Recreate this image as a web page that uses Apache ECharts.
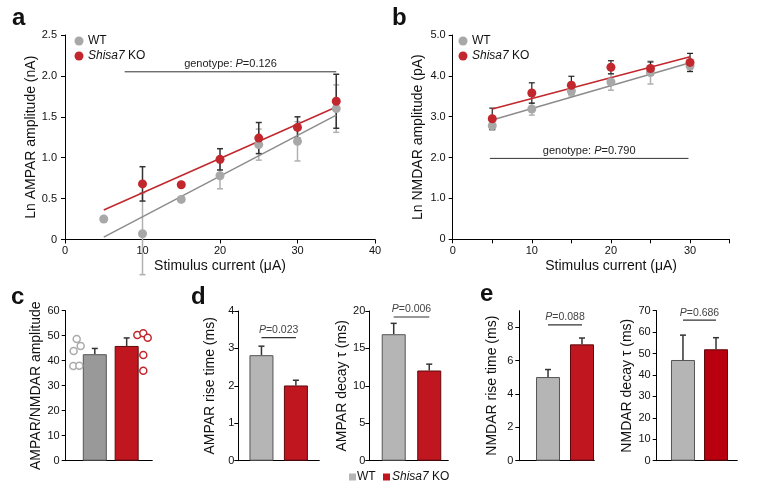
<!DOCTYPE html>
<html><head><meta charset="utf-8">
<script src="https://cdn.jsdelivr.net/npm/echarts@6/dist/echarts.min.js"></script>
<style>html,body{margin:0;padding:0;background:#fff}#c{width:760px;height:489px}</style>
</head><body><div id="c"></div>
<script>
// ---------- DATA ----------
// Panel a: Ln AMPAR amplitude (nA) vs stimulus current (uA)
const currentA = [5, 10, 15, 20, 25, 30, 35];
const ampaWT = [0.25, 0.07, 0.49, 0.78, 1.16, 1.20, 1.60];
const ampaWTerr = [0, 0.50, 0, 0.16, 0.19, 0.24, 0.29];
const currentAKO = [10, 15, 20, 25, 30, 35];
const ampaKO = [0.68, 0.67, 0.98, 1.24, 1.37, 1.69];
const ampaKOerr = [0.21, 0, 0.13, 0.19, 0.13, 0.33];
const ampaFitWT = [[5, 0.03], [35, 1.52]];
const ampaFitKO = [[5, 0.36], [35, 1.62]];
const ampaGenotypeSpan = [7.7, 35];
const ampaGenotypeLevel = 2.05;
const ampaGenotypeP = '0.126';

// Panel b: Ln NMDAR amplitude (pA)
const currentB = [5, 10, 15, 20, 25, 30];
const nmdaWT = [2.78, 3.19, 3.63, 3.85, 4.08, 4.24];
const nmdaWTerr = [0.11, 0.15, 0.12, 0.20, 0.28, 0.14];
const nmdaKO = [2.95, 3.58, 3.77, 4.21, 4.18, 4.33];
const nmdaKOerr = [0.26, 0.25, 0.22, 0.16, 0.16, 0.22];
const nmdaFitWT = [[5, 2.92], [30, 4.32]];
const nmdaFitKO = [[5, 3.19], [30, 4.47]];
const nmdaGenotypeSpan = [4.7, 29.8];
const nmdaGenotypeLevel = 1.98;
const nmdaGenotypeP = '0.790';

// Bar panels: [WT, Shisa7 KO]
const groups = ['WT', 'Shisa7 KO'];
const ratioMean = [42.6, 45.9];
const ratioSEM = [2.3, 3.2];
const ratioCellsWT = [48.7, 45.9, 43.9, 37.9, 38.0];
const ratioCellsKO = [50.3, 51.0, 49.2, 42.3, 36.0];
const ampaRise = [2.82, 2.01];
const ampaRiseSEM = [0.24, 0.14];
const ampaRiseP = '0.023';
const ampaDecay = [16.9, 12.05];
const ampaDecaySEM = [1.45, 0.85];
const ampaDecayP = '0.006';
const nmdaRise = [5.02, 6.98];
const nmdaRiseSEM = [0.45, 0.38];
const nmdaRiseP = '0.088';
const nmdaDecay = [47.0, 52.0];
const nmdaDecaySEM = [11.6, 5.4];
const nmdaDecayP = '0.686';

// ---------- LAYOUT / STYLE ----------
const F = "'Liberation Sans', Arial, sans-serif";
const RED = '#c1272d', GREY = '#a8a8a8';
const jitterWT = [0.127, 0.173, 0.092, 0.088, 0.157];
const jitterKO = [0.827, 0.896, 0.947, 0.896, 0.896];

const grids = [
  {left: 65, top: 35, width: 310, height: 204.5},
  {left: 452.7, top: 35, width: 276.9, height: 204.3},
  {left: 65.7, top: 310.7, width: 86.6, height: 150},
  {left: 238.3, top: 311, width: 81, height: 149.7},
  {left: 369.3, top: 311, width: 79, height: 149.7},
  {left: 519.3, top: 310.7, width: 75, height: 150},
  {left: 656.7, top: 310.7, width: 80.6, height: 150}
];

const barPanels = [
  {g: 2, vals: ratioMean, errs: ratioSEM, max: 60, interval: 10, name: 'AMPAR/NMDAR amplitude', pos: [0.336, 0.704], wt: '#999999', ko: '#c0161f', gap: 22, margin: 6},
  {g: 3, vals: ampaRise, errs: ampaRiseSEM, max: 4, interval: 1, name: 'AMPAR rise time (ms)', pos: [0.286, 0.711], wt: '#b5b5b5', ko: '#c0161f', gap: 21, margin: 4, p: ampaRiseP, pLevel: 3.29},
  {g: 4, vals: ampaDecay, errs: ampaDecaySEM, max: 20, interval: 5, name: 'AMPAR decay τ (ms)', pos: [0.309, 0.759], wt: '#b5b5b5', ko: '#c0161f', gap: 19, margin: 4, p: ampaDecayP, pLevel: 19.2},
  {g: 5, vals: nmdaRise, errs: nmdaRiseSEM, max: 9, interval: 2, name: 'NMDAR rise time (ms)', pos: [0.383, 0.836], wt: '#b5b5b5', ko: '#c0161f', gap: 20, margin: 6, p: nmdaRiseP, pLevel: 8.15, hideMax: true},
  {g: 6, vals: nmdaDecay, errs: nmdaDecaySEM, max: 70, interval: 10, name: 'NMDAR decay τ (ms)', pos: [0.326, 0.736], wt: '#b5b5b5', ko: '#b8000f', gap: 20, margin: 6, p: nmdaDecayP, pLevel: 65.6}
];

const axisLine = {show: true, lineStyle: {color: '#000', width: 1}};
const axisTick = {show: true, length: 4, lineStyle: {color: '#000', width: 1}};
const lbl = {fontFamily: F, fontSize: 11, color: '#111'};
const nameStyle = {fontFamily: F, fontSize: 14, color: '#111'};

const xAxis = [
  {gridIndex: 0, type: 'value', min: 0, max: 40, interval: 10, axisLine, axisTick, splitLine: {show: false},
   axisLabel: Object.assign({margin: 6}, lbl), name: 'Stimulus current (μA)', nameLocation: 'middle', nameGap: 20, nameTextStyle: nameStyle},
  {gridIndex: 1, type: 'value', min: 0, max: 35, interval: 5, axisLine, axisTick, splitLine: {show: false},
   axisLabel: Object.assign({margin: 6, formatter: v => (v % 10 === 0 && v <= 30) ? String(v) : ''}, lbl),
   name: 'Stimulus current (μA)', nameLocation: 'middle', nameGap: 20, nameTextStyle: Object.assign({padding: [0, 0, 0, 40]}, nameStyle)}
];
const yAxis = [
  {gridIndex: 0, type: 'value', min: 0, max: 2.5, interval: 0.5, axisLine, axisTick, splitLine: {show: false},
   axisLabel: Object.assign({margin: 8, formatter: v => v === 0 ? '0' : v.toFixed(1)}, lbl),
   name: 'Ln AMPAR amplitude (nA)', nameLocation: 'middle', nameGap: 22, nameRotate: 90, nameTextStyle: nameStyle},
  {gridIndex: 1, type: 'value', min: 0, max: 5, interval: 1, axisLine, axisTick, splitLine: {show: false},
   axisLabel: Object.assign({margin: 7, formatter: v => v === 0 ? '0' : v.toFixed(1)}, lbl),
   name: 'Ln NMDAR amplitude (pA)', nameLocation: 'middle', nameGap: 28, nameRotate: 90, nameTextStyle: nameStyle}
];
barPanels.forEach(p => {
  xAxis.push({gridIndex: p.g, type: 'value', min: 0, max: 1, axisLine, axisTick: {show: false}, axisLabel: {show: false}, splitLine: {show: false}});
  yAxis.push({gridIndex: p.g, type: 'value', min: 0, max: p.max, interval: p.interval, axisLine, axisTick, splitLine: {show: false},
    axisLabel: Object.assign({margin: p.margin, showMaxLabel: !p.hideMax}, lbl),
    name: p.name, nameLocation: 'middle', nameGap: p.gap, nameRotate: 90, nameTextStyle: nameStyle});
});

function pRich(prefix, p, size, color) {
  return {
    text: (prefix ? '{n|' + prefix + '}' : '') + '{i|P}{n|=' + p + '}',
    rich: {
      n: {fontFamily: F, fontSize: size, fill: color},
      i: {fontFamily: F, fontSize: size, fill: color, fontStyle: 'italic'}
    }
  };
}

function errSeries(ax, xs, ys, es, color, width, both, z) {
  return {
    type: 'custom', xAxisIndex: ax, yAxisIndex: ax, clip: false, silent: true, z: z,
    data: xs.map((x, i) => [x, ys[i], es[i]]),
    encode: {x: 0, y: 1},
    renderItem: (params, api) => {
      const x = api.value(0), y = api.value(1), e = api.value(2);
      if (!e) return null;
      const top = api.coord([x, y + e]);
      const bot = api.coord(both ? [x, y - e] : [x, y]);
      const c = 3;
      const st = {stroke: color, lineWidth: width};
      const ch = [
        {type: 'line', shape: {x1: top[0], y1: top[1], x2: bot[0], y2: bot[1]}, style: st},
        {type: 'line', shape: {x1: top[0] - c, y1: top[1], x2: top[0] + c, y2: top[1]}, style: st}
      ];
      if (both) ch.push({type: 'line', shape: {x1: bot[0] - c, y1: bot[1], x2: bot[0] + c, y2: bot[1]}, style: st});
      return {type: 'group', children: ch};
    }
  };
}

function bracketSeries(ax, x1, x2, level, prefix, p, size, color, lw) {
  return {
    type: 'custom', xAxisIndex: ax, yAxisIndex: ax, clip: false, silent: true, z: 5,
    data: [[x1, x2, level]],
    renderItem: (params, api) => {
      const a = api.coord([api.value(0), api.value(2)]);
      const b = api.coord([api.value(1), api.value(2)]);
      return {type: 'group', children: [
        {type: 'line', shape: {x1: a[0], y1: a[1], x2: b[0], y2: b[1]}, style: {stroke: '#333', lineWidth: lw}},
        {type: 'text', x: (a[0] + b[0]) / 2, y: a[1] - 2,
         style: Object.assign({align: 'center', verticalAlign: 'bottom'}, pRich(prefix, p, size, color))}
      ]};
    }
  };
}

const series = [];
// Panel a
series.push(errSeries(0, currentA, ampaWT, ampaWTerr, '#b0b0b0', 1.5, true, 2));
series.push(errSeries(0, currentAKO, ampaKO, ampaKOerr, '#333', 1.5, true, 3));
series.push({type: 'line', xAxisIndex: 0, yAxisIndex: 0, data: ampaFitWT, showSymbol: false, silent: true, z: 4, lineStyle: {color: '#8c8c8c', width: 1.5}});
series.push({type: 'line', xAxisIndex: 0, yAxisIndex: 0, data: ampaFitKO, showSymbol: false, silent: true, z: 4, lineStyle: {color: RED, width: 1.5}});
series.push({type: 'scatter', xAxisIndex: 0, yAxisIndex: 0, data: currentA.map((x, i) => [x, ampaWT[i]]), symbolSize: 9, itemStyle: {color: GREY, opacity: 1}, z: 5});
series.push({type: 'scatter', xAxisIndex: 0, yAxisIndex: 0, data: currentAKO.map((x, i) => [x, ampaKO[i]]), symbolSize: 9, itemStyle: {color: RED, opacity: 1}, z: 6});
series.push(bracketSeries(0, ampaGenotypeSpan[0], ampaGenotypeSpan[1], ampaGenotypeLevel, 'genotype: ', ampaGenotypeP, 11, '#222', 1));
// Panel b
series.push(errSeries(1, currentB, nmdaWT, nmdaWTerr, '#b0b0b0', 1.5, true, 2));
series.push(errSeries(1, currentB, nmdaKO, nmdaKOerr, '#222', 1.2, true, 3));
series.push({type: 'line', xAxisIndex: 1, yAxisIndex: 1, data: nmdaFitWT, showSymbol: false, silent: true, z: 4, lineStyle: {color: '#8c8c8c', width: 1.5}});
series.push({type: 'line', xAxisIndex: 1, yAxisIndex: 1, data: nmdaFitKO, showSymbol: false, silent: true, z: 4, lineStyle: {color: RED, width: 1.5}});
series.push({type: 'scatter', xAxisIndex: 1, yAxisIndex: 1, data: currentB.map((x, i) => [x, nmdaWT[i]]), symbolSize: 9, itemStyle: {color: GREY, opacity: 1}, z: 5});
series.push({type: 'scatter', xAxisIndex: 1, yAxisIndex: 1, data: currentB.map((x, i) => [x, nmdaKO[i]]), symbolSize: 9, itemStyle: {color: RED, opacity: 1}, z: 6});
series.push(bracketSeries(1, nmdaGenotypeSpan[0], nmdaGenotypeSpan[1], nmdaGenotypeLevel, 'genotype: ', nmdaGenotypeP, 11, '#222', 1));

// Bar panels
barPanels.forEach((p, k) => {
  const ax = 2 + k;
  series.push({
    type: 'bar', xAxisIndex: ax, yAxisIndex: ax, barWidth: 24, silent: true, z: 2,
    data: p.vals.map((v, i) => ({value: [p.pos[i], v], itemStyle: {color: i === 0 ? p.wt : p.ko, borderColor: i === 0 ? '#555' : '#5c0a0d', borderWidth: 1}}))
  });
  series.push(errSeries(ax, p.pos, p.vals, p.errs, '#333', 1.5, false, 1));
  if (p.p) series.push(bracketSeries(ax, p.pos[0], p.pos[1], p.pLevel, '', p.p, 10.5, '#444', 1.2));
});
// individual cells, panel c
series.push({type: 'scatter', xAxisIndex: 2, yAxisIndex: 2, data: ratioCellsWT.map((v, i) => [jitterWT[i], v]), symbolSize: 7,
  itemStyle: {color: '#fff', borderColor: '#aaa', borderWidth: 1.5, opacity: 1}, z: 5});
series.push({type: 'scatter', xAxisIndex: 2, yAxisIndex: 2, data: ratioCellsKO.map((v, i) => [jitterKO[i], v]), symbolSize: 7,
  itemStyle: {color: '#fff', borderColor: RED, borderWidth: 1.5, opacity: 1}, z: 5});

function letter(t, x, y) {
  return {type: 'text', x: x, y: y, style: {text: t, font: 'bold 24px ' + F, fill: '#111'}};
}
function legendDot(x, y, color) {
  return {type: 'circle', shape: {cx: x, cy: y, r: 4.5}, style: {fill: color}};
}
function legendText(x, y, italic) {
  return {type: 'text', x: x, y: y, style: {
    text: italic ? '{i|Shisa7}{n| KO}' : '{n|WT}', verticalAlign: 'middle',
    rich: {n: {fontFamily: F, fontSize: 12, fill: '#111'}, i: {fontFamily: F, fontSize: 12, fill: '#111', fontStyle: 'italic'}}}};
}
function legendSquare(x, y, color) {
  return {type: 'rect', shape: {x: x, y: y - 3.5, width: 7, height: 7}, style: {fill: color}};
}

const graphic = [
  letter('a', 12, 6), letter('b', 392, 6), letter('c', 11, 285), letter('d', 191, 285), letter('e', 480, 282),
  legendDot(79, 41, GREY), legendText(88, 41, false), legendDot(79, 56, RED), legendText(88, 56, true),
  legendDot(463, 41, GREY), legendText(472, 41, false), legendDot(463, 56, RED), legendText(472, 56, true),
  legendSquare(349, 477, '#b5b5b5'), legendText(357, 477, false), legendSquare(383, 477, '#c0161f'), legendText(392, 477, true)
];

const chart = echarts.init(document.getElementById('c'), null, {renderer: 'canvas'});
chart.setOption({
  animation: false,
  backgroundColor: '#fff',
  grid: grids.map(g => Object.assign({containLabel: false}, g)),
  xAxis, yAxis, series, graphic
});
</script></body></html>
